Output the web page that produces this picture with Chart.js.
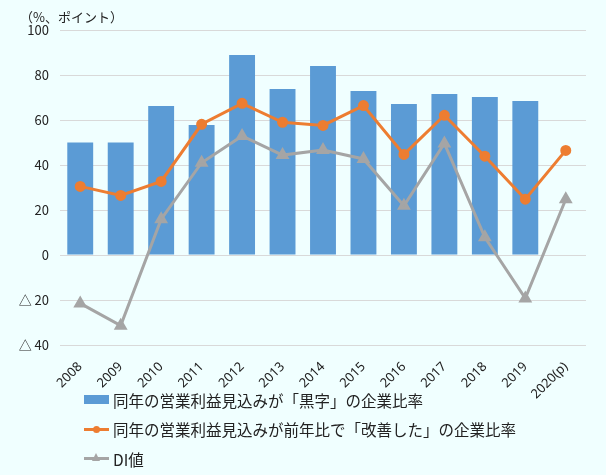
<!DOCTYPE html>
<html>
<head>
<meta charset="utf-8">
<script src="https://cdn.jsdelivr.net/npm/chart.js@4.4.0/dist/chart.umd.min.js"></script>
<style>
  html, body { margin: 0; padding: 0; background: #F0FFFF; }
  .wrap { position: relative; width: 606px; height: 475px; font-family: "Noto Sans CJK JP", "Noto Sans", sans-serif; color: #222; }
  .unit { position: absolute; left: 20px; top: 7px; font-size: 13px; }
  .legend { position: absolute; left: 84px; top: 385px; font-size: 15.5px; }
  .legend > div { height: 29.5px; display: flex; align-items: center; }
  .mk { width: 25px; height: 9px; margin-right: 4px; position: relative; }
</style>
</head>
<body>
<div class="wrap">
  <canvas id="chart" width="606" height="475"></canvas>
  <div class="unit">（%、ポイント）</div>
  <div class="legend" id="legend"></div>
</div>
<script>
const years = ["2008", "2009", "2010", "2011", "2012", "2013", "2014", "2015", "2016", "2017", "2018", "2019", "2020(p)"];
const blackRatio = [50, 50, 66.2, 57.8, 88.9, 73.8, 84, 72.9, 67.1, 71.6, 70.2, 68.4, null];
const improvedRatio = [30.5, 26.5, 32.7, 58.1, 67.4, 59, 57.6, 66.4, 44.7, 62.1, 43.9, 24.8, 46.5];
const diValue = [-21.5, -31.4, 15.9, 41, 52.9, 44.4, 46.7, 42.7, 21.9, 49.6, 7.9, -19.3, 24.8];
const seriesNames = [
  "同年の営業利益見込みが「黒字」の企業比率",
  "同年の営業利益見込みが前年比で「改善した」の企業比率",
  "DI値"
];

const blue = "#5B9BD5";
const orange = "#ED7D31";
const gray = "#A5A5A5";

const chart = new Chart(document.getElementById("chart"), {
  type: "bar",
  data: {
    labels: years,
    datasets: [
      {
        label: seriesNames[0],
        data: blackRatio,
        backgroundColor: blue,
        barPercentage: 0.64,
        categoryPercentage: 1,
        order: 3,
      },
      {
        type: "line",
        label: seriesNames[1],
        data: improvedRatio,
        borderColor: orange,
        backgroundColor: orange,
        borderWidth: 3,
        pointRadius: 4,
        pointStyle: "circle",
        tension: 0,
        order: 1,
      },
      {
        type: "line",
        label: seriesNames[2],
        data: diValue,
        borderColor: gray,
        backgroundColor: gray,
        borderWidth: 3,
        pointRadius: 5,
        pointStyle: "triangle",
        tension: 0,
        order: 2,
      },
    ],
  },
  options: {
    responsive: false,
    animation: false,
    layout: { padding: { left: 0, right: 20, top: 30, bottom: 0 } },
    plugins: {
      legend: { display: false },
      tooltip: { enabled: false },
    },
    scales: {
      x: {
        grid: { display: false },
        border: { display: false },
        ticks: {
          minRotation: 45,
          maxRotation: 45,
          autoSkip: false,
          padding: 6,
          color: "#222",
          font: { family: "'Noto Sans', sans-serif", size: 13 },
        },
        afterFit: (scale) => { scale.height = 130; },
      },
      y: {
        min: -40,
        max: 100,
        grid: { color: "#D9D9D9", lineWidth: 1, drawTicks: false },
        border: { display: false },
        ticks: {
          stepSize: 20,
          padding: 11,
          color: "#222",
          font: { family: "'Noto Sans CJK JP', sans-serif", size: 13 },
          callback: (v) => (v < 0 ? "△ " + Math.abs(v) : String(v)),
        },
        afterFit: (scale) => { scale.width = 60; },
      },
    },
  },
});

// legend built in HTML so each series sits on its own row
const legendEl = document.getElementById("legend");
const markers = [
  '<div class="mk" style="background:' + blue + '"></div>',
  '<div class="mk"><div style="position:absolute;left:0;top:3px;width:25px;height:3px;background:' + orange + '"></div><div style="position:absolute;left:9px;top:1px;width:7px;height:7px;border-radius:50%;background:' + orange + '"></div></div>',
  '<div class="mk"><div style="position:absolute;left:0;top:3px;width:25px;height:3px;background:' + gray + '"></div><div style="position:absolute;left:8px;top:-1px;width:0;height:0;border-left:4.5px solid transparent;border-right:4.5px solid transparent;border-bottom:8px solid ' + gray + '"></div></div>',
];
seriesNames.forEach((name, i) => {
  const row = document.createElement("div");
  row.innerHTML = markers[i] + "<span>" + name + "</span>";
  legendEl.appendChild(row);
});
</script>
</body>
</html>
